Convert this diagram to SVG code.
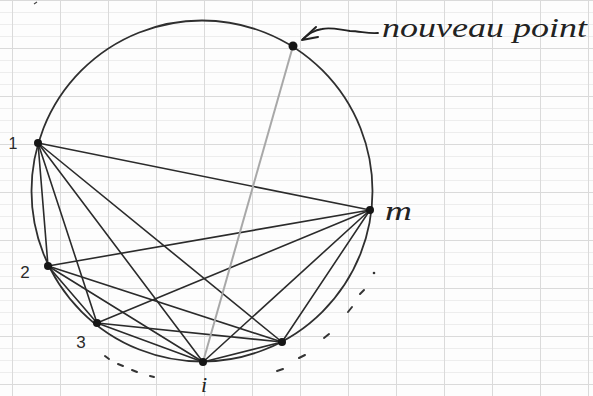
<svg xmlns="http://www.w3.org/2000/svg" width="593" height="396" viewBox="0 0 593 396">
<defs>
<pattern id="minor" width="593" height="12" patternUnits="userSpaceOnUse">
<line x1="0" y1="0.5" x2="593" y2="0.5" stroke="#ededed" stroke-width="1"/>
</pattern>
<pattern id="major" x="12" y="0" width="48" height="48" patternUnits="userSpaceOnUse">
<line x1="0.5" y1="0" x2="0.5" y2="48" stroke="#dadada" stroke-width="1"/>
<line x1="0" y1="0.5" x2="48" y2="0.5" stroke="#dadada" stroke-width="1"/>
</pattern>
<style>
.chord{stroke:#2b2b2b;stroke-width:1.6;fill:none;stroke-linecap:round}
.dot{fill:#161616}
.lbl{font-family:"Liberation Serif",serif;font-style:italic;fill:#222}
.num{font-family:"Liberation Sans",sans-serif;fill:#2a2a2a}
.dash{stroke:#333;stroke-width:2;stroke-linecap:round}
</style>
</defs>
<rect width="593" height="396" fill="#fdfdfd"/>
<rect width="593" height="396" fill="url(#minor)"/>
<rect width="593" height="396" fill="url(#major)"/>
<path d="M34 4 l3 -2" stroke="#444" stroke-width="1.2"/>
<circle id="cercle" cx="202" cy="191" r="170.5" fill="none" stroke="#2f2f2f" stroke-width="1.8"/>
<g id="connectors">
<line class="chord" x1="38" y1="143" x2="370" y2="210"/>
<line class="chord" x1="38" y1="143" x2="48" y2="266"/>
<line class="chord" x1="38" y1="143" x2="97" y2="323"/>
<line class="chord" x1="38" y1="143" x2="203" y2="362"/>
<line class="chord" x1="38" y1="143" x2="282" y2="342"/>
<line class="chord" x1="48" y1="266" x2="370" y2="210"/>
<line class="chord" x1="48" y1="266" x2="97" y2="323"/>
<line class="chord" x1="48" y1="266" x2="203" y2="362"/>
<line class="chord" x1="48" y1="266" x2="282" y2="342"/>
<line class="chord" x1="97" y1="323" x2="370" y2="210"/>
<line class="chord" x1="97" y1="323" x2="282" y2="342"/>
<line class="chord" x1="97" y1="323" x2="203" y2="362"/>
<line class="chord" x1="203" y1="362" x2="370" y2="210"/>
<line class="chord" x1="203" y1="362" x2="282" y2="342"/>
<line class="chord" x1="282" y1="342" x2="370" y2="210" stroke-width="2.2"/>
<line x1="203" y1="362" x2="293" y2="46" stroke="#a8a8a8" stroke-width="2"/>
<path d="M378 33 C368 34 360 31 350 31 C340 30 332 27 322 29 C314 30 309 34 303 39" fill="none" stroke="#222" stroke-width="1.8" stroke-linecap="round"/>
<polyline points="316,27 302,40 318,37" fill="none" stroke="#222" stroke-width="2" stroke-linecap="round" stroke-linejoin="round"/>
</g>
<g id="pointilles">
<line class="dash" x1="105" y1="356" x2="109" y2="359"/>
<line class="dash" x1="118" y1="364" x2="123" y2="366"/>
<line class="dash" x1="132" y1="370" x2="137" y2="372"/>
<line class="dash" x1="150" y1="376" x2="154" y2="377"/>
<line class="dash" x1="277" y1="371" x2="283" y2="369"/>
<line class="dash" x1="299" y1="358" x2="305" y2="355"/>
<line class="dash" x1="324" y1="338" x2="329" y2="334"/>
<line class="dash" x1="348" y1="312" x2="352" y2="307"/>
<line class="dash" x1="360" y1="294" x2="364" y2="290"/>
<circle cx="374" cy="273" r="1.3" fill="#333"/>
</g>
<g id="p1"><circle class="dot" cx="38" cy="143" r="4"/><text class="num" x="13" y="149" font-size="16" text-anchor="middle">1</text></g>
<g id="p2"><circle class="dot" cx="48" cy="266" r="4"/><text class="num" x="25" y="278" font-size="17" text-anchor="middle">2</text></g>
<g id="p3"><circle class="dot" cx="97" cy="323" r="4"/><text class="num" x="81" y="348" font-size="17" text-anchor="middle">3</text></g>
<g id="pi"><circle class="dot" cx="203" cy="362" r="4"/><text class="lbl" x="204" y="392" font-size="22" text-anchor="middle">i</text></g>
<g id="p4"><circle class="dot" cx="282" cy="342" r="4"/></g>
<g id="pm"><circle class="dot" cx="370" cy="210" r="4"/><text class="lbl" x="385" y="220" font-size="28" textLength="27" lengthAdjust="spacingAndGlyphs">m</text></g>
<g id="pN"><circle class="dot" cx="293" cy="46" r="4.5"/><text class="lbl" x="382" y="37" font-size="28" textLength="205" lengthAdjust="spacingAndGlyphs">nouveau point</text></g>
</svg>
